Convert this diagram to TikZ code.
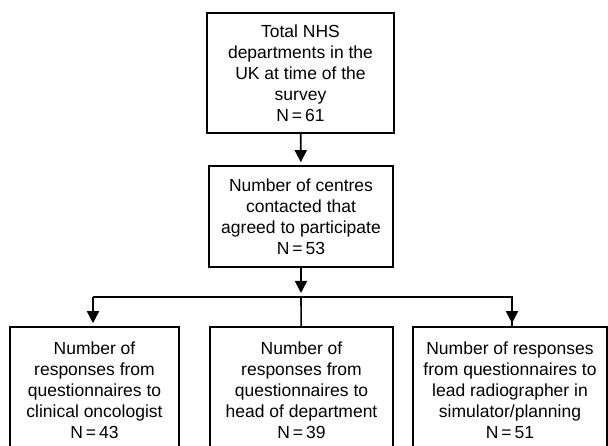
\documentclass[tikz,border=0pt]{standalone}
\usepackage{fontspec}
\setmainfont{Liberation Sans}
\usepackage{tikz}
\usetikzlibrary{arrows.meta}
\tikzstyle{every box node}=[]
\tikzstyle{box}=[draw, line width=1.6pt, align=center, inner sep=0pt,
  font=\fontsize{17.5}{21}\selectfont]
\tikzstyle{link}=[line width=1.6pt, -{Triangle[width=12pt,length=12pt]}]
\tikzstyle{plain}=[line width=1.6pt]

\begin{document}
\begin{tikzpicture}[x=1pt,y=-1pt]
\useasboundingbox (0,0) rectangle (608,446);
\clip (0,0) rectangle (608,446);

\node[box, minimum width=187pt, minimum height=120pt] (total) at (300.5,73)
  {Total NHS\\departments in the\\UK at time of the\\survey\\N\,=\,61};

\node[box, minimum width=184pt, minimum height=101pt] (centres) at (301,216.5)
  {Number of centres\\contacted that\\agreed to participate\\N\,=\,53};

%\node[box] at (300,300) {};
\node[box, minimum width=169pt, minimum height=126pt] (onco) at (94.5,390)
  {Number of\\responses from\\questionnaires to\\clinical oncologist\\N\,=\,43};
\node[box, minimum width=183pt, minimum height=126pt] (head) at (301.5,390)
  {Number of\\responses from\\questionnaires to\\head of department\\N\,=\,39};
\node[box, minimum width=194pt, minimum height=126pt] (radio) at (510,390)
  {Number of responses\\from questionnaires to\\lead radiographer in\\simulator/planning\\N\,=\,51};

\coordinate (split) at (301,297);

\draw[link, shorten >=3pt] (total) -- (centres);
\draw[link, shorten >=4pt] (centres) -- (split);
\draw[plain] (split) -- (head);
\draw[plain] ([xshift=-1.5pt]onco.north |- split) -- (split) -| ([xshift=2pt]radio.north);
\draw[link, shorten >=3pt] ([xshift=-1.5pt]onco.north |- split) -- ([xshift=-1.5pt]onco.north);
\draw[link, shorten >=3pt] ([xshift=2pt]radio.north |- split) -- ([xshift=2pt]radio.north);

\end{tikzpicture}
\end{document}
